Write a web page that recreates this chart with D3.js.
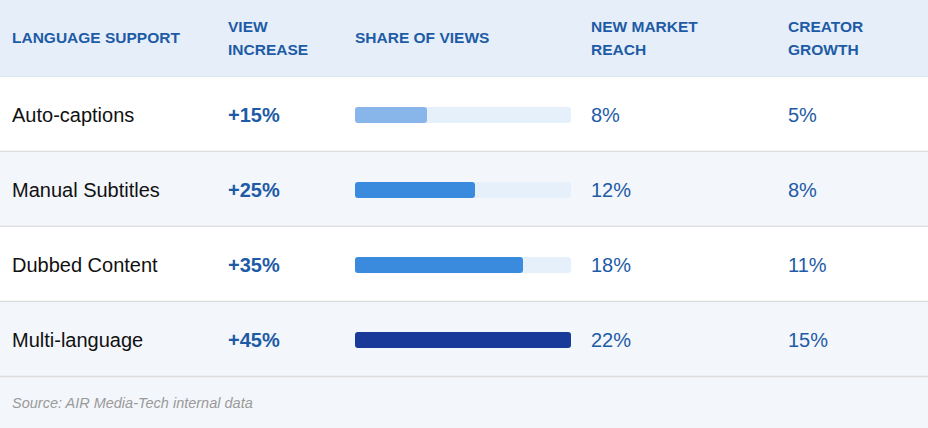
<!DOCTYPE html><html><head><meta charset="utf-8">
<script src="https://cdn.jsdelivr.net/npm/d3@7"></script>
<style>body{margin:0;background:#f3f6fb}svg{display:block}</style></head><body>
<svg id="c" width="928" height="428"></svg>
<script>
const headers = [["LANGUAGE SUPPORT"],["VIEW","INCREASE"],["SHARE OF VIEWS"],["NEW MARKET","REACH"],["CREATOR","GROWTH"]];
const categories = ["Auto-captions","Manual Subtitles","Dubbed Content","Multi-language"];
const viewIncrease = [15,25,35,45];
const marketReach = [8,12,18,22];
const creatorGrowth = [5,8,11,15];
const barColors = ["#88b6ea","#3a8bdd","#3a8bdd","#1a3a9a"];
const source = "Source: AIR Media-Tech internal data";

const svg = d3.select("#c");
const W = 928, headH = 77, rowH = 75;
const colX = [12,228,355,591,788];
const font = "Arial, 'Liberation Sans', sans-serif";
const y = d3.scaleBand().domain(d3.range(categories.length)).range([headH, headH+rowH*categories.length]);
const x = d3.scaleLinear().domain([0, d3.max(viewIncrease)]).range([355, 571]);

svg.append("rect").attr("width",W).attr("height",428).attr("fill","#f3f6fb");
svg.append("rect").attr("width",W).attr("height",headH).attr("fill","#e6eff9");
headers.forEach((h,i)=>{
  const t = svg.append("text").attr("x",colX[i]).attr("font-family",font).attr("font-weight","bold")
    .attr("font-size",15.5).attr("fill","#1e5ba6");
  if(h.length===1) t.append("tspan").attr("x",colX[i]).attr("y",43).text(h[0]);
  else { t.append("tspan").attr("x",colX[i]).attr("y",32).text(h[0]); t.append("tspan").attr("x",colX[i]).attr("y",55).text(h[1]); }
});
svg.append("line").attr("x1",0).attr("x2",W).attr("y1",headH).attr("y2",headH).attr("stroke","#d6dde6");

const rows = svg.selectAll("g.row").data(categories).join("g").attr("transform",(d,i)=>`translate(0,${y(i)})`);
rows.append("rect").attr("width",W).attr("height",rowH).attr("fill",(d,i)=>i%2?"#f3f6fb":"#ffffff");
rows.append("line").attr("x1",0).attr("x2",W).attr("y1",rowH-0.5).attr("y2",rowH-0.5).attr("stroke","#dcdcdc").attr("stroke-width",1.5);
const cy = 38, ty = 45;
rows.append("text").attr("x",colX[0]).attr("y",ty).attr("font-family",font).attr("font-size",20).attr("fill","#111").text(d=>d);
rows.append("text").attr("x",colX[1]).attr("y",ty).attr("font-family",font).attr("font-weight","bold").attr("font-size",20).attr("fill","#1e5ba6").text((d,i)=>"+"+viewIncrease[i]+"%");
rows.append("rect").attr("x",x(0)).attr("y",cy-8).attr("width",x(45)-x(0)).attr("height",16).attr("rx",3).attr("fill","#e6f0fb");
rows.append("rect").attr("x",x(0)).attr("y",cy-8).attr("width",(d,i)=>x(viewIncrease[i])-x(0)).attr("height",16).attr("rx",3).attr("fill",(d,i)=>barColors[i]);
rows.append("text").attr("x",colX[3]).attr("y",ty).attr("font-family",font).attr("font-size",20).attr("fill","#1e5ba6").text((d,i)=>marketReach[i]+"%");
rows.append("text").attr("x",colX[4]).attr("y",ty).attr("font-family",font).attr("font-size",20).attr("fill","#1e5ba6").text((d,i)=>creatorGrowth[i]+"%");

svg.append("text").attr("x",12).attr("y",408).attr("font-family",font).attr("font-style","italic").attr("font-size",14.5).attr("fill","#9a9a9a").text(source);
</script></body></html>
